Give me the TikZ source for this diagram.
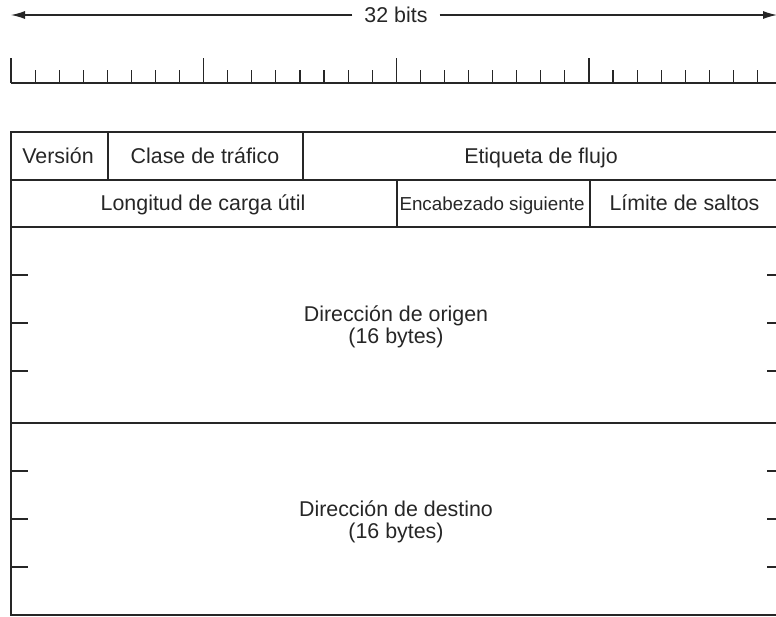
\documentclass[tikz,border=0pt]{standalone}
\usepackage{fontspec}
\setmainfont{Liberation Sans}
\usetikzlibrary{arrows.meta}
\begin{document}
\begin{tikzpicture}[x=1pt,y=-1pt,
  frame/.style={line width=1.25pt, draw=black!85},
  thin/.style={line width=1.15pt, draw=black!85},
  lbl/.style={font=\fontsize{21.4}{25}\selectfont, inner sep=0pt, anchor=base, text=black!85},
  small/.style={font=\fontsize{18.8}{22}\selectfont, inner sep=0pt, anchor=base, text=black!85},
  arr/.style={line width=1.15pt, draw=black!85, -{Latex[length=14pt,width=8pt]}}]
\useasboundingbox (0,0) rectangle (776,616);
% 32 bits arrow
\node[lbl] (bits) at (396,22.5) {32 bits};
\coordinate (aL) at (11,15);
\coordinate (aR) at (777,15);
\draw[arr] (bits.west |- aL) ++(-12,0) -- (aL);
\draw[arr] (bits.east |- aR) ++(12,0) -- (aR);
% ruler
\draw[thin] (11,83) -- (782,83);
\foreach \k in {0,...,32}{
  \pgfmathsetmacro{\xx}{11+24.08*\k}
  \pgfmathtruncatemacro{\m}{mod(\k,8)}
  \ifnum\m=0
    \draw[thin] (\xx,83) -- (\xx,58);
  \else
    \draw[thin] (\xx,83) -- (\xx,70);
  \fi
}
% table
\draw[frame] (782,132) -- (11,132) -- (11,615) -- (782,615);
\draw[frame] (11,180) -- (782,180);
\draw[frame] (11,227) -- (782,227);
\draw[frame] (11,423) -- (782,423);
\draw[frame] (108,132) -- (108,180);
\draw[frame] (303,132) -- (303,180);
\draw[frame] (397,180) -- (397,227);
\draw[frame] (590,180) -- (590,227);
\draw[frame] (782,132) -- (782,615);
% side ticks
\foreach \yy in {275,323,371,471,519,567}{
  \draw[thin] (11,\yy) -- (28,\yy);
  \draw[thin] (767,\yy) -- (782,\yy);
}
% labels
\node[lbl] (ver) at (58,163) {Versión};
\node[lbl] (cls) at (205,163) {Clase de tráfico};
\node[lbl] (flo) at (541,163) {Etiqueta de flujo};
\node[lbl] (len) at (203,210.5) {Longitud de carga útil};
\node[small] (nxt) at (492,210.5) {Encabezado siguiente};
\node[lbl] (hop) at (684.5,210.5) {Límite de saltos};
\node[lbl] (src1) at (396,321.5) {Dirección de origen};
\node[lbl] (src2) at (396,343) {(16 bytes)};
\node[lbl] (dst1) at (396,516.5) {Dirección de destino};
\node[lbl] (dst2) at (396,538) {(16 bytes)};
\end{tikzpicture}
\end{document}
